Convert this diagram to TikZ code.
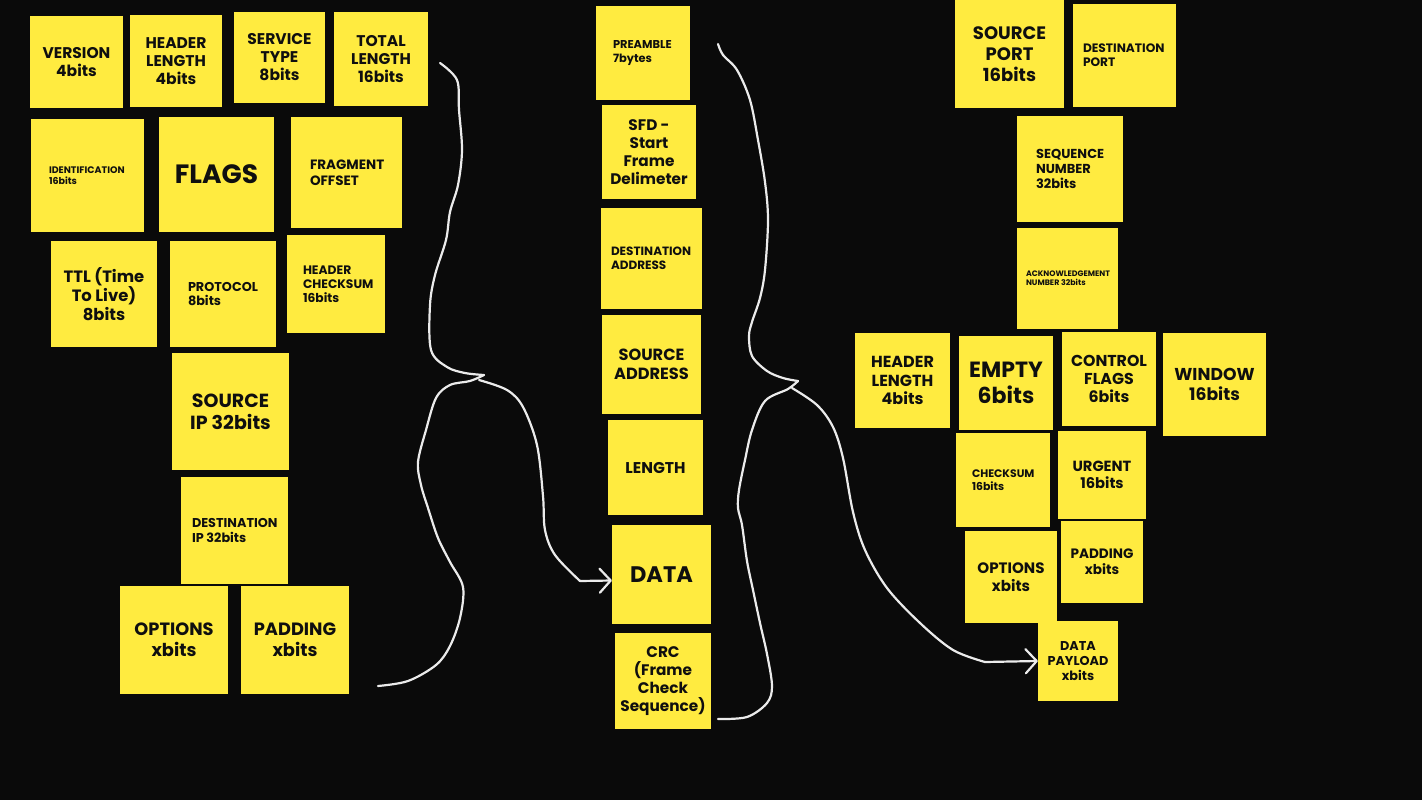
\documentclass[tikz,border=0pt]{standalone}
\usepackage{fontspec}
\setmainfont{Poppins}
\usetikzlibrary{arrows.meta}
\definecolor{bg}{RGB}{10,10,10}
\definecolor{sticky}{RGB}{255,235,64}
\definecolor{ink}{RGB}{15,15,15}
\definecolor{chalk}{RGB}{235,235,235}
\tikzset{
  note/.style={fill=sticky, draw=none, inner sep=0pt},
  notetext/.style={text=ink, inner sep=0pt},
  chalkline/.style={draw=chalk, line width=2.2pt, line cap=round, line join=round},
  chalktip/.style={-{Straight Barb[length=11pt,width=24pt,line width=2.2pt,round]}}
}
% centred note: name, x1, y1, x2, y2, size, text
\newcommand\bx[7]{%
  \pgfmathsetmacro\bxw{#4-#2}\pgfmathsetmacro\bxh{#5-#3}%
  \pgfmathsetmacro\bxcx{(#2+#4)/2}\pgfmathsetmacro\bxcy{(#3+#5)/2}%
  \pgfmathsetmacro\bxb{#6*1.16}%
  \node[note, minimum width=\bxw pt, minimum height=\bxh pt] (#1) at (\bxcx,\bxcy) {};
  \node[notetext, align=center, font={\bfseries\fontsize{#6}{\bxb}\selectfont}] (#1-t) at (#1.center) {#7};
}
% left-aligned note: name, x1, y1, x2, y2, pad, size, text
\newcommand\bl[8]{%
  \pgfmathsetmacro\bxw{#4-#2}\pgfmathsetmacro\bxh{#5-#3}%
  \pgfmathsetmacro\bxcx{(#2+#4)/2}\pgfmathsetmacro\bxcy{(#3+#5)/2}%
  \pgfmathsetmacro\bxb{#7*1.16}%
  \node[note, minimum width=\bxw pt, minimum height=\bxh pt] (#1) at (\bxcx,\bxcy) {};
  \node[notetext, align=left, anchor=west, font={\bfseries\fontsize{#7}{\bxb}\selectfont}] (#1-t) at ([xshift=#6pt]#1.west) {#8};
}
\begin{document}
\begin{tikzpicture}[x=1pt,y=-1pt]
\useasboundingbox (0,0) rectangle (1422,800);
\fill[bg] (0,0) rectangle (1422,800);

% ---------- IP header ----------
\bx{ver}{30}{16}{123}{108}{15.5}{VERSION\\4bits}
\bx{hl}{130}{15}{222}{107}{15.5}{HEADER\\LENGTH\\4bits}
\bx{st}{234}{12}{325}{103}{15.5}{SERVICE\\TYPE\\8bits}
\bx{tl}{334}{12}{428}{106}{15.5}{TOTAL\\LENGTH\\16bits}
\bl{id}{31}{119}{144}{232}{18}{9.5}{IDENTIFICATION\\16bits}
\bx{fl}{159}{117}{274}{232}{26.5}{FLAGS}
\bl{fo}{291}{117}{402}{228}{19}{13.5}{FRAGMENT\\OFFSET}
\bx{ttl}{51}{241}{157}{347}{16.4}{TTL (Time\\To Live)\\8bits}
\bl{pr}{170}{241}{276}{347}{18}{12.8}{PROTOCOL\\8bits}
\bl{hc}{287}{235}{385}{333}{16}{12.3}{HEADER\\CHECKSUM\\16bits}
\bx{sip}{172}{353}{289}{470}{19}{SOURCE\\IP 32bits}
\bl{dip}{181}{477}{288}{584}{11}{12.8}{DESTINATION\\IP 32bits}
\bx{opt}{120}{586}{228}{694}{17.8}{OPTIONS\\xbits}
\bx{pad}{241}{586}{349}{694}{17.8}{PADDING\\xbits}

% ---------- Ethernet frame ----------
\bl{pre}{596}{6}{690}{100}{17}{11.4}{PREAMBLE\\7bytes}
\bx{sfd}{602}{105}{696}{199}{15.3}{SFD -\\Start\\Frame\\Delimeter}
\bl{da}{601}{208}{702}{309}{10}{12}{DESTINATION\\ADDRESS}
\bx{sa}{602}{315}{701}{414}{16.2}{SOURCE\\ADDRESS}
\bx{len}{608}{420}{703}{515}{15.6}{LENGTH}
\bx{data}{612}{525}{711}{624}{22.5}{DATA}
\bx{crc}{615}{633}{711}{729}{15.3}{CRC\\(Frame\\Check\\Sequence)}

% ---------- TCP header ----------
\bx{sp}{955}{0}{1064}{108}{18}{SOURCE\\PORT\\16bits}
\bl{dp}{1073}{4}{1176}{107}{10}{12.2}{DESTINATION\\PORT}
\bl{seq}{1017}{116}{1123}{222}{19}{13}{SEQUENCE\\NUMBER\\32bits}
\bl{ack}{1017}{228}{1118}{329}{9}{7.9}{ACKNOWLEDGEMENT\\NUMBER 32bits}
\bx{thl}{855}{333}{950}{428}{16}{HEADER\\LENGTH\\4bits}
\bx{emp}{959}{336}{1053}{430}{22}{EMPTY\\6bits}
\bx{cf}{1062}{332}{1156}{426}{15.8}{CONTROL\\FLAGS\\6bits}
\bx{win}{1163}{333}{1266}{436}{17.2}{WINDOW\\16bits}
\bl{cs}{956}{433}{1050}{527}{16}{10.9}{CHECKSUM\\16bits}
\bx{urg}{1058}{431}{1146}{519}{14.7}{URGENT\\16bits}
\bx{topt}{965}{531}{1057}{623}{15.1}{OPTIONS\\xbits}
\bx{tpad}{1061}{521}{1143}{603}{13.6}{PADDING\\xbits}
\bx{pay}{1038}{621}{1118}{701}{12.8}{DATA\\PAYLOAD\\xbits}

% ---------- chalk braces ----------
\coordinate (lt) at (440,63);
\coordinate (lx) at (484,375);
\coordinate (lb) at (378,686);
\coordinate (lbr) at (479,380);
\draw[chalkline] plot[smooth, tension=0.55] coordinates {(lt) (457,80) (459,110) (462,150) (458,185) (450,212) (446,240) (435,275) (430,305) (431,350) (447,367) (465,373) (lx)};
\draw[chalkline] plot[smooth, tension=0.55] coordinates {(lx) (470,381) (450,385) (436,398) (426,430) (418,462) (421,485) (428,508) (438,538) (450,562) (463,587) (460,618) (450,646) (436,665) (408,681) (lb)};
\draw[chalkline] plot[smooth, tension=0.55] coordinates {(lbr) (507,390) (523,407) (537,445) (543,496) (545,530) (555,555) (580,581)};
\draw[chalkline, chalktip] (580,581) -- ([yshift=-6pt]data.west);

\coordinate (rt) at (718,44);
\coordinate (rx) at (798,381);
\coordinate (rb) at (718,719);
\coordinate (rbr) at (792,388);
\draw[chalkline] plot[smooth, tension=0.55] coordinates {(rt) (723,55) (737,70) (750,100) (758,140) (765,182) (768,220) (765,270) (760,298) (752,322) (749,336) (752,356) (767,371) (783,378) (rx)};
\draw[chalkline] plot[smooth, tension=0.55] coordinates {(rx) (788,389) (765,401) (752,430) (745,460) (739,490) (738,508) (742,525) (747,561) (753,590) (760,623) (767,654) (772,686) (767,703) (747,717) (rb)};
\draw[chalkline] plot[smooth, tension=0.55] coordinates {(rbr) (817,405) (833,427) (843,458) (853,512) (865,550) (887,588) (920,623) (953,650) (985,662)};
\draw[chalkline, chalktip] (985,662) -- (pay.west);
\end{tikzpicture}
\end{document}
